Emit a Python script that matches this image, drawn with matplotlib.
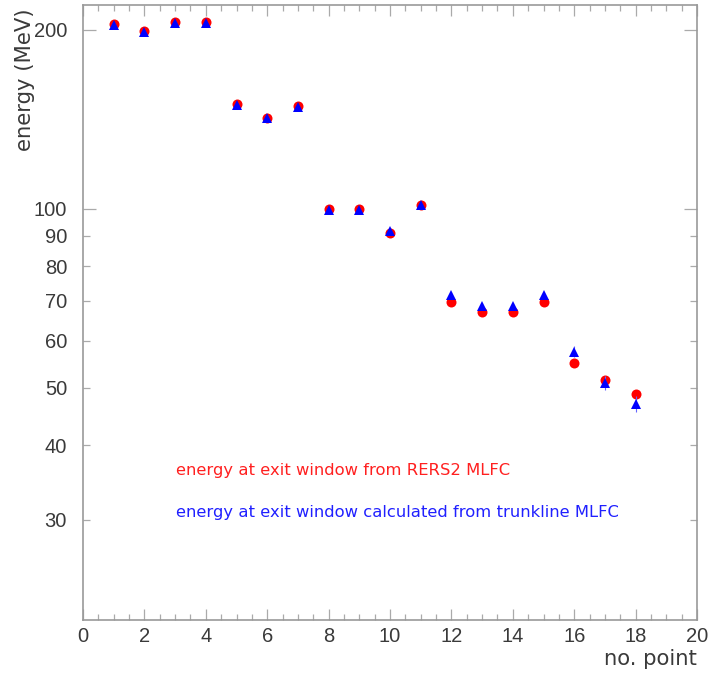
import matplotlib
matplotlib.use("Agg")
import matplotlib.pyplot as plt
from matplotlib.ticker import FixedLocator, FixedFormatter, MultipleLocator

points = list(range(1, 19))
energy_rers2 = [204.7, 199.2, 205.7, 205.7, 150.0, 142.1, 148.6, 99.7, 99.7, 91.1, 101.6,
                69.8, 67.1, 67.1, 69.7, 55.0, 51.5, 48.9]
energy_trunk = [203.5, 198.5, 205.0, 205.0, 149.5, 141.8, 148.2, 99.6, 99.6, 91.8, 101.6,
                71.7, 68.5, 68.5, 71.7, 57.5, 50.9, 47.0]
trunk_err = [1.5, 1.5, 1.5, 1.5, 1.2, 1.2, 1.2, 0.9, 0.9, 0.9, 0.9,
             0.8, 0.8, 0.8, 0.8, 1.2, 1.4, 1.4]

ytick_major = [100, 200]
ytick_major_labels = ["100", "200"]
ytick_minor = [30, 40, 50, 60, 70, 80, 90]
ytick_minor_labels = ["30", "40", "50", "60", "70", "80", "90"]

label_red = "energy at exit window from RERS2 MLFC"
label_blue = "energy at exit window calculated from trunkline MLFC"

fig = plt.figure(figsize=(7.17, 6.73), dpi=100)
ax = fig.add_axes([83/717, 1 - 620/673, (697 - 83)/717, (620 - 5)/673])

ax.set_yscale("log")
ax.set_xlim(0, 20)
ax.set_ylim(20.35, 220)

ax.plot(points, energy_rers2, linestyle="none", marker="o", color="#ff0000",
        markersize=7.2, markeredgewidth=0, zorder=3)
ax.errorbar(points, energy_trunk, yerr=trunk_err, linestyle="none", marker="^",
            color="#0000ff", ecolor="#6666ff", elinewidth=0.8, capsize=0,
            markersize=7.5, markeredgewidth=0, zorder=4)

grey = "#999999"
for s in ax.spines.values():
    s.set_color(grey)
    s.set_linewidth(1.2)

ax.xaxis.set_major_locator(MultipleLocator(2))
ax.xaxis.set_minor_locator(MultipleLocator(0.5))
ax.yaxis.set_major_locator(FixedLocator(ytick_major))
ax.yaxis.set_minor_locator(FixedLocator(ytick_minor))
ax.yaxis.set_major_formatter(FixedFormatter(ytick_major_labels))
ax.yaxis.set_minor_formatter(FixedFormatter(ytick_minor_labels))

ax.tick_params(axis="both", which="both", direction="in", top=True, right=True,
               color="#aaaaaa", labelcolor="#3a3a3a", labelsize=14.5, width=0.9)
for lab in ax.get_xticklabels() + ax.get_yticklabels(which="both"):
    lab.set_family("Liberation Sans")
ax.tick_params(axis="x", which="major", length=8, pad=5)
ax.tick_params(axis="x", which="minor", length=4)
ax.tick_params(axis="y", which="major", length=9.5, pad=11.5)
ax.tick_params(axis="y", which="minor", length=4.8, pad=11.5)
plt.setp(ax.get_xticklabels(), family="Liberation Sans")
plt.setp(ax.get_yticklabels(which="both"), family="Liberation Sans")
plt.setp(ax.yaxis.get_minorticklabels(), family="Liberation Sans")

fig.text(25/717, 1 - 8/673, "energy (MeV)", rotation=90, ha="center", va="top",
         fontsize=15.2, color="#3a3a3a")
fig.text(697/717, 1 - 665/673, "no. point", ha="right", va="baseline",
         fontsize=15.2, color="#3a3a3a")

fig.text(176/717, 1 - 471/673, label_red, ha="left", va="center",
         fontsize=11.8, color="#ff2020")
fig.text(176/717, 1 - 513/673, label_blue, ha="left", va="center",
         fontsize=11.8, color="#2020ff")

fig.savefig("out.png", dpi=100, facecolor="white")
